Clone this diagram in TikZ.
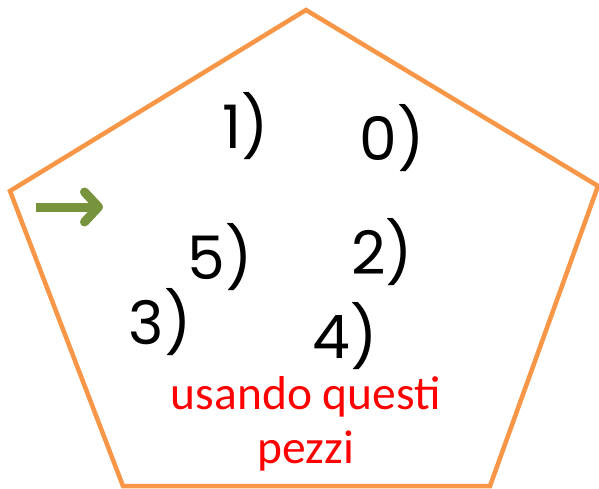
\documentclass[tikz,border=0pt]{standalone}
\usepackage{fontspec}
\setmainfont{Carlito}
\newfontfamily\numfont{Poppins}
\usetikzlibrary{arrows.meta}
\definecolor{penORG}{HTML}{F79646}
\definecolor{arrGRN}{HTML}{77933C}
\definecolor{txtRED}{HTML}{FF0000}
\begin{document}
\begin{tikzpicture}[x=1pt, y=-1pt,
  num/.style={font=\numfont\fontsize{60}{60}\selectfont, inner sep=0pt},
  lbl/.style={font=\fontsize{47.5}{56}\selectfont, text=txtRED, inner sep=0pt}]
\useasboundingbox (0,0) rectangle (599,489);
% pentagon
\coordinate (pT) at (306,10);
\coordinate (pR) at (598,186);
\coordinate (pBR) at (490,486);
\coordinate (pBL) at (123,486);
\coordinate (pL) at (10,191);
\draw[penORG, line width=4.5pt, line join=miter] (pT) -- (pR) -- (pBR) -- (pBL) -- (pL) -- cycle;
% arrow
\coordinate (aS) at (36,207);
\coordinate (aE) at (103,207);
\draw[arrGRN, line width=9pt, -{Straight Barb[round, length=14pt, width=30pt]}] (aS) -- (aE);
% numbers
\foreach \n/\x/\y in {1/246/126, 0/392/138, 5/220/257, 2/382/252, 3/160/322, 4/345/336}
  {\node[num] (n\n) at (\x,\y) {\n)};}
% caption
\node[lbl] (cap1) at (306,397) {usando questi};
\node[lbl] (cap2) at (306,451) {pezzi};
\end{tikzpicture}
\end{document}
